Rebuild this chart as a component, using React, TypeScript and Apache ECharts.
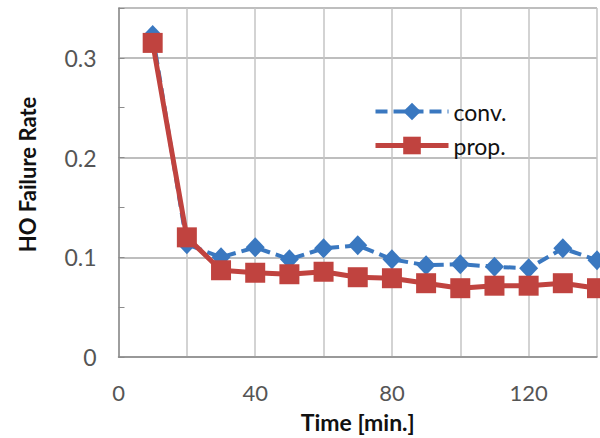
import React, { useEffect, useRef } from "react";
import * as echarts from "echarts";

const times = [10, 20, 30, 40, 50, 60, 70, 80, 90, 100, 110, 120, 130, 140];
const convValues = [0.323, 0.113, 0.1, 0.11, 0.098, 0.109, 0.112, 0.098, 0.092, 0.093, 0.0905, 0.089, 0.109, 0.097];
const propValues = [0.315, 0.12, 0.087, 0.0845, 0.083, 0.0855, 0.08, 0.079, 0.074, 0.069, 0.0715, 0.0715, 0.074, 0.069];
const xTickLabels = ["0", "40", "80", "120"];
const yTickLabels = ["0", "0.1", "0.2", "0.3"];

const FONT = "Lato, 'Open Sans', sans-serif";

export default function App() {
  const ref = useRef<HTMLDivElement>(null);
  useEffect(() => {
    if (!ref.current) return;
    const chart = echarts.init(ref.current, null, { renderer: "svg" });
    chart.setOption({
      animation: false,
      backgroundColor: "#ffffff",
      grid: { left: 118.5, top: 8, right: 0, bottom: 81, containLabel: false },
      legend: {
        orient: "vertical",
        left: 373,
        top: 100,
        padding: 0,
        itemWidth: 73,
        itemHeight: 22,
        itemGap: 11,
        textStyle: { fontFamily: FONT, fontSize: 23, color: "#111" },
        data: [
          { name: "conv.", lineStyle: { width: 4 } },
          { name: "prop.", lineStyle: { width: 5 } },
        ],
      },
      xAxis: {
        type: "value",
        min: 0,
        max: 140,
        interval: 20,
        name: "Time [min.]",
        nameLocation: "middle",
        nameGap: 53,
        nameTextStyle: { fontFamily: FONT, fontSize: 23, fontWeight: "bold", color: "#111" },
        axisLine: { show: true, lineStyle: { color: "#8c8c8c", width: 1.5 } },
        axisTick: { show: false },
        splitLine: { show: true, lineStyle: { color: "#c4c4c4", width: 1.5 } },
        axisLabel: {
          margin: 24,
          fontFamily: FONT,
          fontSize: 22,
          color: "#555",
          formatter: (v: number) => (xTickLabels.includes(String(v)) ? String(v) : ""),
        },
      },
      yAxis: {
        type: "value",
        min: 0,
        max: 0.35,
        interval: 0.1,
        name: "HO Failure Rate",
        nameLocation: "middle",
        nameGap: 80,
        nameTextStyle: { fontFamily: FONT, fontSize: 22, fontWeight: "bold", color: "#111", padding: [0, 0, 0, 16] },
        axisLine: { show: true, lineStyle: { color: "#8c8c8c", width: 1.5 } },
        axisTick: { show: true, inside: true, length: 6, lineStyle: { color: "#8c8c8c" } },
        minorTick: { show: true, splitNumber: 2, length: 6, lineStyle: { color: "#8c8c8c" } },
        splitLine: { show: true, lineStyle: { color: "#a8a8a8", width: 1.5 } },
        axisLabel: {
          margin: 22,
          fontFamily: FONT,
          fontSize: 23,
          color: "#555",
          showMaxLabel: false,
          formatter: (v: number) => {
            const s = v === 0 ? "0" : v.toFixed(1);
            return yTickLabels.includes(s) && Math.abs(v - 0.35) > 1e-9 ? s : "";
          },
        },
      },
      series: [
        {
          name: "conv.",
          type: "line",
          data: times.map((t, i) => [t, convValues[i]]),
          symbol: "diamond",
          symbolSize: [19, 20],
          lineStyle: { color: "#3a78c0", width: 4, type: [12, 6] },
          itemStyle: { color: "#3a78c0" },
          z: 2,
        },
        {
          name: "prop.",
          type: "line",
          data: times.map((t, i) => [t, propValues[i]]),
          symbol: "rect",
          symbolSize: 20,
          lineStyle: { color: "#c0433f", width: 5 },
          itemStyle: { color: "#c0433f", borderRadius: 2 },
          z: 3,
        },
      ],
    });
    return () => chart.dispose();
  }, []);
  return <div ref={ref} style={{ width: 600, height: 438, position: "absolute", left: 0, top: 0 }} />;
}
